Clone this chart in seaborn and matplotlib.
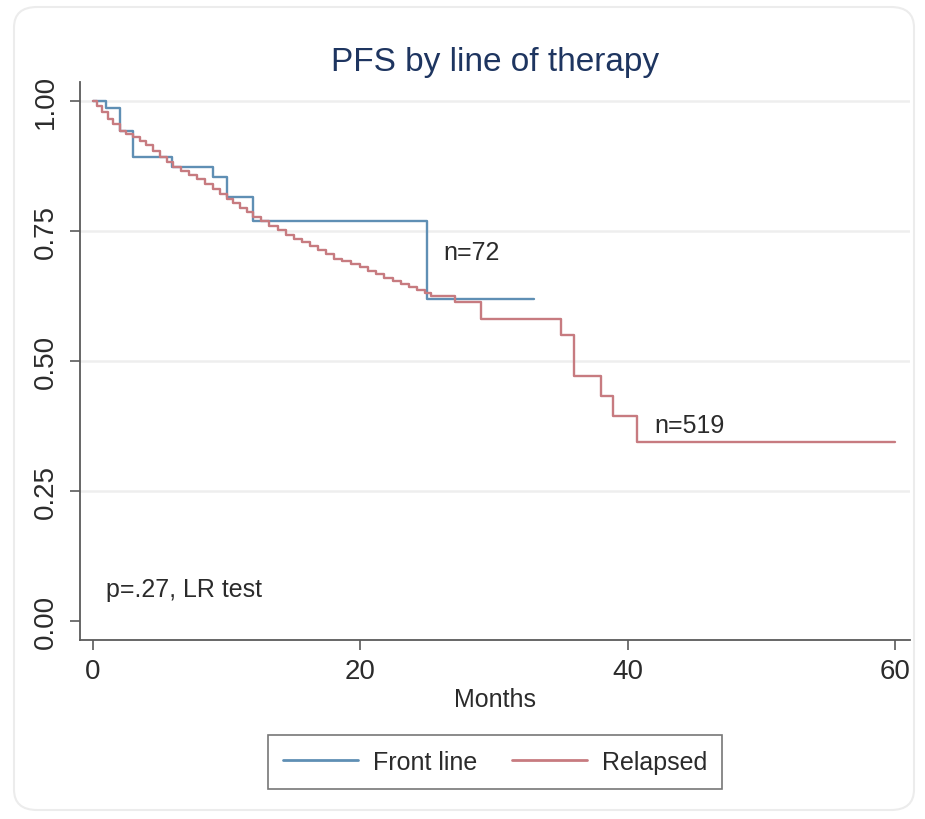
import matplotlib
matplotlib.use("Agg")
import matplotlib.pyplot as plt
from matplotlib.patches import FancyBboxPatch
from matplotlib.lines import Line2D
import seaborn as sns
import pandas as pd

# ---- data ----
front_time = [0, 1.0, 2.0, 3.0, 5.9, 9.0, 10.0, 12.0, 25.0, 33.0]
front_surv = [1.0, 0.986, 0.942, 0.892, 0.873, 0.854, 0.815, 0.770, 0.619, 0.619]

relapsed_time = [0, 0.3, 0.7, 1.1, 1.5, 2.0, 2.5, 3.0, 3.5, 4.0, 4.5, 5.0, 5.5,
                 6.0, 6.6, 7.2, 7.8, 8.4, 9.0, 9.5, 10.0, 10.5, 11.0, 11.5,
                 12.0, 12.6, 13.2, 13.8, 14.4, 15.0, 15.6, 16.2, 16.8, 17.4,
                 18.0, 18.6, 19.3, 20.0, 20.6, 21.2, 21.8, 22.4, 23.0, 23.6,
                 24.2, 24.8, 25.3, 27.1, 29.0, 35.0, 36.0, 38.0, 38.9, 40.7, 60.0]
relapsed_surv = [1.0, 0.990, 0.978, 0.966, 0.955, 0.942, 0.936, 0.930, 0.923,
                 0.915, 0.904, 0.893, 0.883, 0.873, 0.866, 0.858, 0.850, 0.840,
                 0.831, 0.822, 0.812, 0.803, 0.795, 0.786, 0.777, 0.769, 0.760,
                 0.752, 0.743, 0.735, 0.728, 0.721, 0.714, 0.705, 0.696, 0.692,
                 0.687, 0.680, 0.674, 0.667, 0.660, 0.654, 0.648, 0.642, 0.636,
                 0.630, 0.625, 0.613, 0.581, 0.550, 0.471, 0.433, 0.394, 0.344, 0.344]

groups = ["Front line", "Relapsed"]
colors = ["#5f8fb4", "#c77b80"]
x_ticks = [0, 20, 40, 60]
y_ticks = [0.0, 0.25, 0.5, 0.75, 1.0]
y_ticklabels = ["0.00", "0.25", "0.50", "0.75", "1.00"]
title = "PFS by line of therapy"
x_label = "Months"
annotations = [("n=72", 26.2, 0.71), ("n=519", 42.0, 0.377), ("p=.27, LR test", 1.0, 0.062)]

df = pd.concat([
    pd.DataFrame({"time": front_time, "surv": front_surv, "group": groups[0]}),
    pd.DataFrame({"time": relapsed_time, "surv": relapsed_surv, "group": groups[1]}),
], ignore_index=True)

# ---- style ----
sns.set_style("white")
plt.rcParams["font.family"] = ["Liberation Sans", "DejaVu Sans"]
txt_color = "#2b2b2b"
spine_color = "#5a5a5a"

W, H = 925, 820
fig = plt.figure(figsize=(W / 100, H / 100), dpi=100)
fig.patch.set_facecolor("white")

# faint rounded outer panel (outline only, behind everything)
panel = FancyBboxPatch((14 / W, 9 / H), (914 - 14) / W, (812 - 9) / H,
                       boxstyle="round,pad=0,rounding_size=0.025",
                       transform=fig.transFigure, facecolor="none",
                       edgecolor="#ececec", linewidth=1.5, zorder=-5)
fig.patches.append(panel)

ax = fig.add_axes([80 / W, (H - 641) / H, (910 - 80) / W, (641 - 83) / H])
ax.set_facecolor("none")

sns.lineplot(data=df, x="time", y="surv", hue="group", palette=colors,
             drawstyle="steps-post", estimator=None, linewidth=1.7,
             legend=False, ax=ax, zorder=3)

ax.set_xlim(-0.97, 61.1)
ax.set_ylim(-0.0365, 1.0365)
ax.set_xticks(x_ticks)
ax.set_yticks(y_ticks)
ax.set_yticklabels(y_ticklabels, rotation=90, va="center")
ax.tick_params(axis="both", labelsize=20, colors=spine_color, labelcolor=txt_color,
               length=7, width=1.2, direction="out")
ax.tick_params(axis="y", pad=8)
ax.tick_params(axis="x", pad=6)
ax.tick_params(left=True, bottom=True)

# faint horizontal grid
for yv in y_ticks[1:]:
    ax.axhline(yv, color="#eeeeee", linewidth=1.8, zorder=1)

for s in ["top", "right"]:
    ax.spines[s].set_visible(False)
for s in ["left", "bottom"]:
    ax.spines[s].set_color(spine_color)
    ax.spines[s].set_linewidth(1.3)

ax.set_xlabel(x_label, fontsize=18, color=txt_color, labelpad=2)
ax.set_ylabel("")

for label, xv, yv in annotations:
    ax.text(xv, yv, label, fontsize=18, color=txt_color, va="center", ha="left")

fig.text(495 / W, (H - 71) / H, title, fontsize=24, color="#1e3560",
         ha="center", va="baseline")

handles = [Line2D([], [], color=c, linewidth=2.0) for c in colors]
leg = fig.legend(handles, groups, loc="center", bbox_to_anchor=(495 / W, (H - 763) / H),
                 ncol=2, fontsize=18, frameon=True, fancybox=False,
                 handlelength=3.0, handletextpad=0.6, columnspacing=1.4,
                 borderpad=0.6)
leg.get_frame().set_edgecolor("#555555")
leg.get_frame().set_linewidth(1.2)
for t in leg.get_texts():
    t.set_color(txt_color)

fig.savefig("out.png", dpi=100, facecolor="white")
